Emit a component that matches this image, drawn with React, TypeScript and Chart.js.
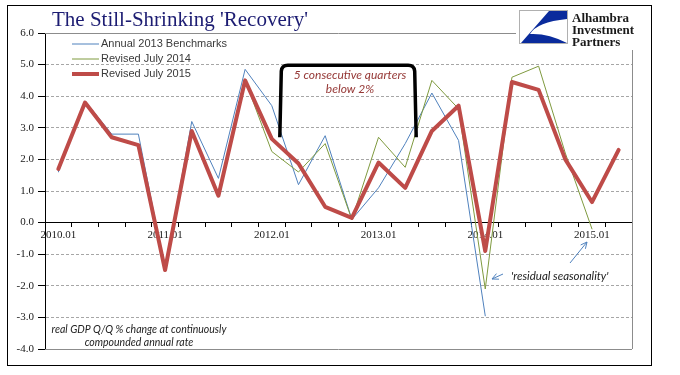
import React, { useEffect, useRef } from "react";
import { Chart, registerables } from "chart.js";

Chart.register(...registerables);

const quarters = [
  "2010.01", "2010.02", "2010.03", "2010.04",
  "2011.01", "2011.02", "2011.03", "2011.04",
  "2012.01", "2012.02", "2012.03", "2012.04",
  "2013.01", "2013.02", "2013.03", "2013.04",
  "2014.01", "2014.02", "2014.03", "2014.04",
  "2015.01", "2015.02",
];

const bench2013 = [
  1.6, 3.85, 2.8, 2.8, -1.5, 3.2, 1.4, 4.85,
  3.7, 1.2, 2.75, 0.1, 1.1, 2.5, 4.1, 2.6,
  -2.95, null, null, null, null, null,
];

const revised2014 = [
  1.7, 3.8, 2.7, 2.45, -1.5, 2.9, 0.85, 4.5,
  2.25, 1.6, 2.5, 0.1, 2.7, 1.75, 4.5, 3.6,
  -2.1, 4.6, 4.95, 2.2, -0.2, null,
];

const revised2015 = [
  1.7, 3.8, 2.7, 2.45, -1.5, 2.9, 0.85, 4.5,
  2.65, 1.87, 0.5, 0.15, 1.9, 1.1, 2.9, 3.7,
  -0.9, 4.45, 4.2, 2.0, 0.65, 2.3,
];

const seriesNames = ["Annual 2013 Benchmarks", "Revised July 2014", "Revised July 2015"];
const seriesColors = ["#4f81bd", "#7f9a3f", "#be4b48"];
const seriesWidths = [1, 1, 4];

const yTicks = [6, 5, 4, 3, 2, 1, 0, -1, -2, -3, -4];

const titleText = "The Still-Shrinking 'Recovery'";
const noteLines = ["5 consecutive quarters", "below 2%"];
const footLines = ["real GDP Q/Q % change at continuously", "compounded annual rate"];
const seasonalText = "'residual seasonality'";
const logoLines = ["Alhambra", "Investment", "Partners"];

function arrow(ctx: CanvasRenderingContext2D, x1: number, y1: number, x2: number, y2: number) {
  ctx.beginPath();
  ctx.moveTo(x1, y1);
  ctx.lineTo(x2, y2);
  const a = Math.atan2(y2 - y1, x2 - x1);
  const h = 7;
  ctx.moveTo(x2 - h * Math.cos(a - 0.45), y2 - h * Math.sin(a - 0.45));
  ctx.lineTo(x2, y2);
  ctx.lineTo(x2 - h * Math.cos(a + 0.45), y2 - h * Math.sin(a + 0.45));
  ctx.stroke();
}

const decorPlugin = {
  id: "decor",
  afterDraw(chart: any) {
    const ctx: CanvasRenderingContext2D = chart.ctx;
    const { left, right, top, bottom } = chart.chartArea;
    const xs = chart.scales.x;
    const ys = chart.scales.y;
    ctx.save();

    // plot frame (top, right, bottom)
    ctx.strokeStyle = "#8c8c8c";
    ctx.lineWidth = 1;
    ctx.beginPath();
    ctx.moveTo(left, Math.round(top) + 0.5);
    ctx.lineTo(right, Math.round(top) + 0.5);
    ctx.moveTo(Math.round(right) + 0.5, top);
    ctx.lineTo(Math.round(right) + 0.5, bottom);
    ctx.moveTo(left, Math.round(bottom) + 0.5);
    ctx.lineTo(right, Math.round(bottom) + 0.5);
    ctx.stroke();

    // outer frame
    ctx.strokeStyle = "#000";
    ctx.strokeRect(7.5, 5.5, 644, 360);

    // title
    ctx.fillStyle = "#1c1c72";
    ctx.font = "21px 'Liberation Serif', serif";
    ctx.textBaseline = "alphabetic";
    ctx.textAlign = "left";
    ctx.fillText(titleText, 52, 26);

    // logo
    ctx.fillStyle = "#fff";
    ctx.fillRect(516, 7, 130, 43);
    ctx.strokeStyle = "#b0b0b0";
    ctx.strokeRect(519.5, 10.5, 48, 33);
    ctx.fillStyle = "#0a2b9c";
    ctx.beginPath();
    ctx.moveTo(549, 11);
    ctx.lineTo(567, 11);
    ctx.lineTo(567, 19);
    ctx.quadraticCurveTo(537, 22, 530, 34);
    ctx.quadraticCurveTo(548, 33, 567, 43);
    ctx.lineTo(521, 43);
    ctx.closePath();
    ctx.fill();
    ctx.fillStyle = "#1a1a1a";
    ctx.font = "bold 13px 'Liberation Serif', serif";
    ctx.fillText(logoLines[0], 572, 22);
    ctx.fillText(logoLines[1], 572, 34);
    ctx.fillText(logoLines[2], 572, 46);

    // bracket
    const bx1 = xs.getPixelForValue(8) + 8;
    const bx2 = xs.getPixelForValue(13) + 11;
    const by1 = ys.getPixelForValue(2.7);
    const by2 = ys.getPixelForValue(4.98);
    const r = 6;
    ctx.strokeStyle = "#000";
    ctx.lineWidth = 3.5;
    ctx.beginPath();
    ctx.moveTo(bx1, by1);
    ctx.lineTo(bx1 + 1.5, by2 + r);
    ctx.quadraticCurveTo(bx1 + 2, by2, bx1 + 2 + r, by2);
    ctx.lineTo(bx2 - 2 - r, by2);
    ctx.quadraticCurveTo(bx2 - 2, by2, bx2 - 1.5, by2 + r);
    ctx.lineTo(bx2, by1);
    ctx.stroke();

    ctx.fillStyle = "#953735";
    ctx.font = "italic 12px Lato, sans-serif";
    ctx.textAlign = "center";
    ctx.textBaseline = "middle";
    const cx = (bx1 + bx2) / 2 + 2;
    ctx.fillText(noteLines[0], cx, 75);
    ctx.fillText(noteLines[1], cx, 89);

    // footnote
    ctx.fillStyle = "#222";
    ctx.font = "italic 10.5px Lato, sans-serif";
    ctx.fillText(footLines[0], 139, 330);
    ctx.fillText(footLines[1], 139, 343);

    // residual seasonality
    ctx.textAlign = "left";
    ctx.font = "italic 11.5px Lato, sans-serif";
    ctx.fillText(seasonalText, 511, 276);
    ctx.strokeStyle = "#4f81bd";
    ctx.lineWidth = 1;
    arrow(ctx, 503, 274, 492, 279);
    arrow(ctx, 570, 263, 587, 242);

    // legend
    ctx.font = "11px 'Liberation Sans', Arial, sans-serif";
    ctx.textBaseline = "middle";
    const rows = [44, 59, 74];
    for (let i = 0; i < seriesNames.length; i++) {
      ctx.strokeStyle = seriesColors[i];
      ctx.lineWidth = seriesWidths[i];
      ctx.beginPath();
      ctx.moveTo(72, rows[i]);
      ctx.lineTo(99, rows[i]);
      ctx.stroke();
      ctx.fillStyle = "#3a3a3a";
      ctx.fillText(seriesNames[i], 101, rows[i]);
    }
    ctx.restore();
  },
};

export default function App() {
  const ref = useRef<HTMLCanvasElement | null>(null);

  useEffect(() => {
    if (!ref.current) return;
    const sets = [bench2013, revised2014, revised2015];
    const chart = new Chart(ref.current, {
      type: "line",
      data: {
        labels: quarters,
        datasets: sets.map((d, i) => ({
          label: seriesNames[i],
          data: d,
          borderColor: seriesColors[i],
          backgroundColor: seriesColors[i],
          borderWidth: seriesWidths[i],
          pointRadius: 0,
          tension: 0,
          spanGaps: false,
          borderJoinStyle: "round" as const,
          borderCapStyle: "round" as const,
          order: 2 - i,
        })),
      },
      options: {
        responsive: false,
        devicePixelRatio: 1,
        animation: false,
        layout: { padding: { left: 0, right: 48, top: 33, bottom: 26 } },
        plugins: {
          legend: { display: false },
          tooltip: { enabled: false },
          title: { display: false },
        },
        scales: {
          x: {
            type: "category",
            position: { y: 0 } as any,
            offset: true,
            grid: {
              display: true,
              offset: true,
              drawOnChartArea: false,
              drawTicks: true,
              tickLength: 4,
              tickColor: "#000",
            },
            border: { display: true, color: "#000", width: 1 },
            ticks: {
              autoSkip: false,
              maxRotation: 0,
              minRotation: 0,
              padding: 2,
              color: "#1a1a1a",
              font: { family: "'Liberation Serif', serif", size: 11 },
              callback: (_v: any, i: number) => (i % 4 === 0 ? quarters[i] : ""),
            },
          },
          y: {
            min: -4,
            max: 6,
            afterFit: (s: any) => {
              s.width = 45;
            },
            afterBuildTicks: (s: any) => {
              s.ticks = yTicks.map((v) => ({ value: v }));
            },
            grid: {
              color: (c: any) => {
                const v = c.tick ? c.tick.value : 0;
                return v === 6 || v === -4 || v === 0 ? "rgba(0,0,0,0)" : "#a6a6a6";
              },
              tickColor: "#000",
              tickLength: 7,
              drawTicks: true,
            },
            border: { display: true, color: "#000", width: 1, dash: [3, 2] },
            ticks: {
              padding: 4,
              color: "#1a1a1a",
              font: { family: "'Liberation Serif', serif", size: 11 },
              callback: (v: any) => Number(v).toFixed(1),
            },
          },
        },
      },
      plugins: [decorPlugin],
    });
    return () => chart.destroy();
  }, []);

  return (
    <div style={{ position: "fixed", left: 0, top: 0, width: 680, height: 375, background: "#fff" }}>
      <canvas ref={ref} width={680} height={375} style={{ width: 680, height: 375 }} />
    </div>
  );
}
